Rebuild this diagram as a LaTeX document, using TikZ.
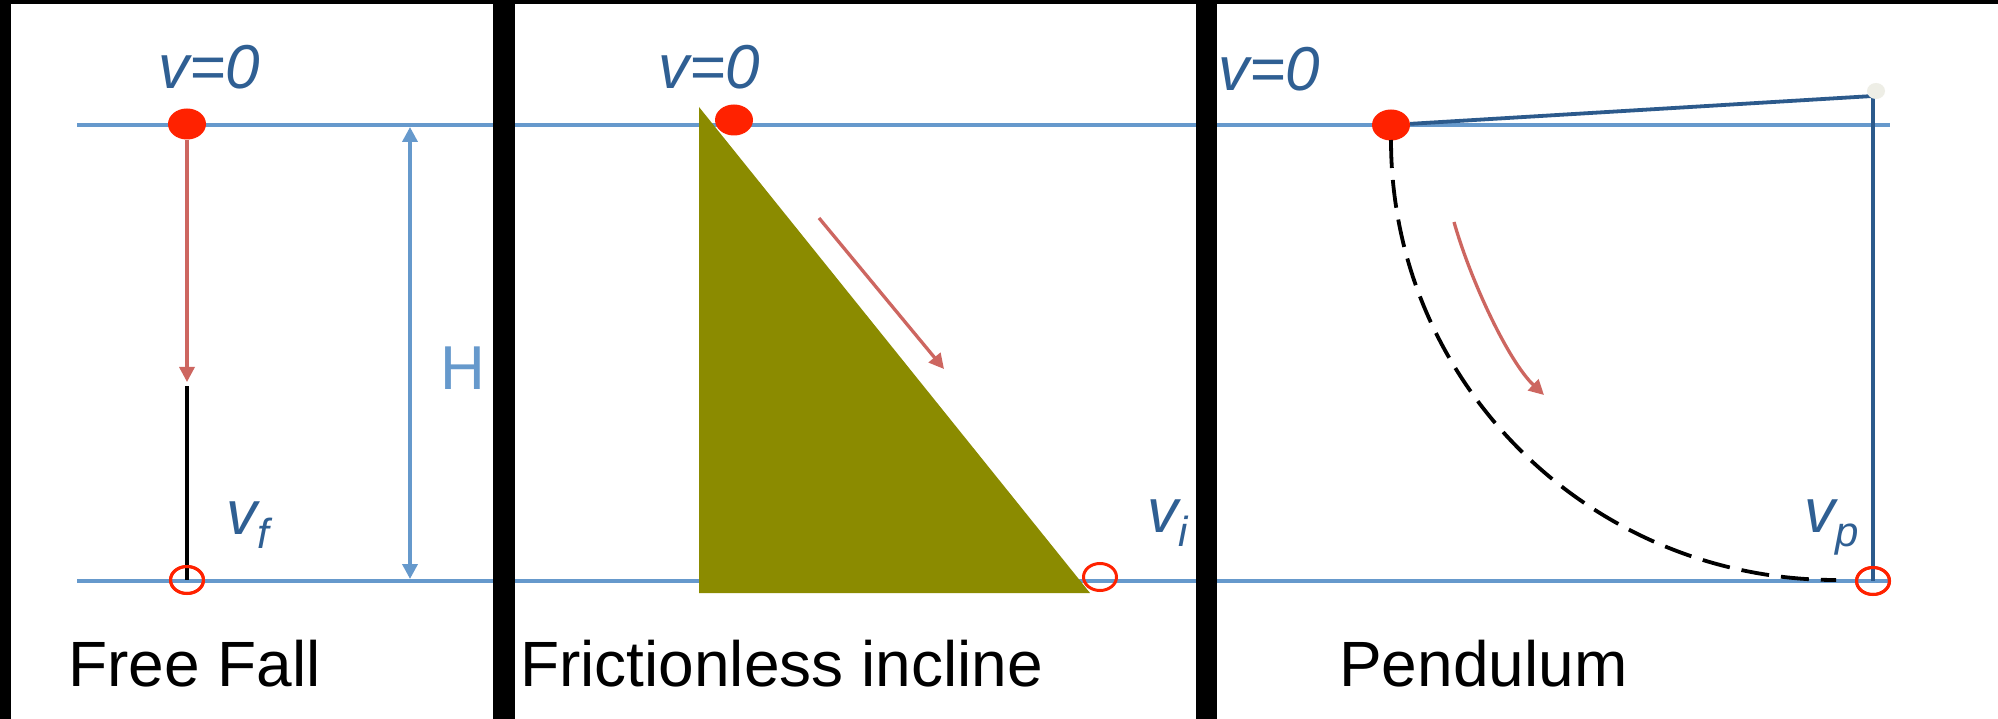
\documentclass[tikz,border=0pt]{standalone}
\usepackage{fontspec}
\setmainfont{Liberation Sans}
\usetikzlibrary{arrows.meta,shapes.geometric}
\definecolor{lineblue}{HTML}{6699CC}
\definecolor{txtblue}{HTML}{2F5F93}
\definecolor{strblue}{HTML}{2C5A8C}
\definecolor{dotred}{HTML}{FF2200}
\definecolor{arrred}{HTML}{CD6660}
\definecolor{wedge}{HTML}{8B8B00}
\definecolor{pivotgray}{HTML}{EEEEE6}
\newcommand{\vsubs}[1]{v\raisebox{-14pt}{\fontsize{42}{42}\selectfont #1}}
\begin{document}
\begin{tikzpicture}[x=1pt,y=-1pt,
  ball/.style={ellipse, fill=dotred, inner sep=0pt, minimum width=38pt, minimum height=31pt},
  hole/.style={ellipse, draw=dotred, line width=3pt, inner sep=0pt, minimum width=33pt, minimum height=27pt},
  vlabel/.style={anchor=base west, inner sep=0pt, text=txtblue, font=\fontsize{62}{62}\selectfont\itshape},
  captext/.style={anchor=base west, inner sep=0pt, font=\fontsize{64}{64}\selectfont},
  guide/.style={draw=lineblue, line width=3.3pt},
  redarrow/.style={draw=arrred, line width=3.3pt, -{Triangle[length=15pt,width=15pt]}},
  stringline/.style={draw=strblue, line width=3.8pt},
  pathdash/.style={draw=black, line width=3.8pt, dash pattern=on 28pt off 12pt},
  bar/.style={fill=black}]
\useasboundingbox (0,0) rectangle (1998,719);
\fill[white] (0,0) rectangle (1998,719);
% guide lines
\coordinate (Lta) at (77,125);
\coordinate (Ltb) at (1890,125);
\coordinate (Lba) at (77,581);
\coordinate (Lbb) at (1890,581);
\draw[guide] (Lta) -- (Ltb);
\draw[guide] (Lba) -- (Lbb);
% ---------- Panel 1: free fall
\node[ball] (ballA) at (187,124) {};
\coordinate (arrA) at (187,382);
\coordinate (blkA) at (187,386);
\node[hole] (ringA) at (187,580) {};
\draw[redarrow] (ballA) -- (arrA);
\draw[black, line width=3.8pt] (blkA) -- (ringA.center);
\node[hole] at (ringA) {};
\coordinate (hTop) at (410,127);
\coordinate (hBot) at (410,579);
\draw[draw=lineblue, line width=3.6pt, {Triangle[length=15pt,width=15pt]}-{Triangle[length=15pt,width=15pt]}] (hTop) -- (hBot);
\node[anchor=base west, inner sep=0pt, text=lineblue, font=\fontsize{62}{62}\selectfont] (hlab) at (440,389) {H};
\node[vlabel] (v0A) at (158,89) {v=0};
\node[vlabel] (vf) at (226,534) {\vsubs{f}};
\node[captext] (capA) at (68,686) {Free Fall};
% ---------- Panel 2: incline
\coordinate (triTop) at (699,107);
\coordinate (triBL) at (699,593);
\coordinate (triBR) at (1090,593);
\fill[wedge] (triTop) -- (triBR) -- (triBL) -- cycle;
\node[ball] (ballB) at (734,120) {};
\coordinate (arrB1) at (819,218);
\coordinate (arrB2) at (944,369);
\draw[redarrow] (arrB1) -- (arrB2);
\node[hole] (ringB) at (1100,577) {};
\node[vlabel] (v0B) at (658,89) {v=0};
\node[vlabel] (vi) at (1147,532) {\vsubs{i}};
\node[captext] (capB) at (520,686) {Frictionless incline};
% ---------- Panel 3: pendulum
\node[ball] (ballC) at (1391,125) {};
\coordinate (hinge) at (1873,96);
\node[hole] (ringC) at (1873,581) {};
\draw[stringline] (ballC) -- (hinge);
\draw[draw=strblue, line width=3.3pt] (hinge) -- (ringC.center);
\node[hole] at (ringC) {};
\node[ellipse, fill=pivotgray, inner sep=0pt, minimum width=18pt, minimum height=16pt] (pivot) at (1876,91) {};
\coordinate (arcS) at (1391,140);
\coordinate (arcC1) at (1391,383);
\coordinate (arcC2) at (1590,580);
\coordinate (arcE) at (1836,580);
\draw[pathdash] (arcS) .. controls (arcC1) and (arcC2) .. (arcE);
\coordinate (wigS) at (1454,222);
\coordinate (wigC1) at (1471,282);
\coordinate (wigC2) at (1509,362);
\coordinate (wigE) at (1544,395);
\draw[redarrow] (wigS) .. controls (wigC1) and (wigC2) .. (wigE);
\node[vlabel] (v0C) at (1218,91) {v=0};
\node[vlabel] (vp) at (1804,532) {\vsubs{p}};
\node[captext] (capC) at (1339,686) {Pendulum};
% ---------- black frame bars
\fill[bar] (0,0) rectangle (1998,4);
\fill[bar] (0,0) rectangle (11,719);
\fill[bar] (493,0) rectangle (515,719);
\fill[bar] (1196,0) rectangle (1217,719);
\end{tikzpicture}
\end{document}
